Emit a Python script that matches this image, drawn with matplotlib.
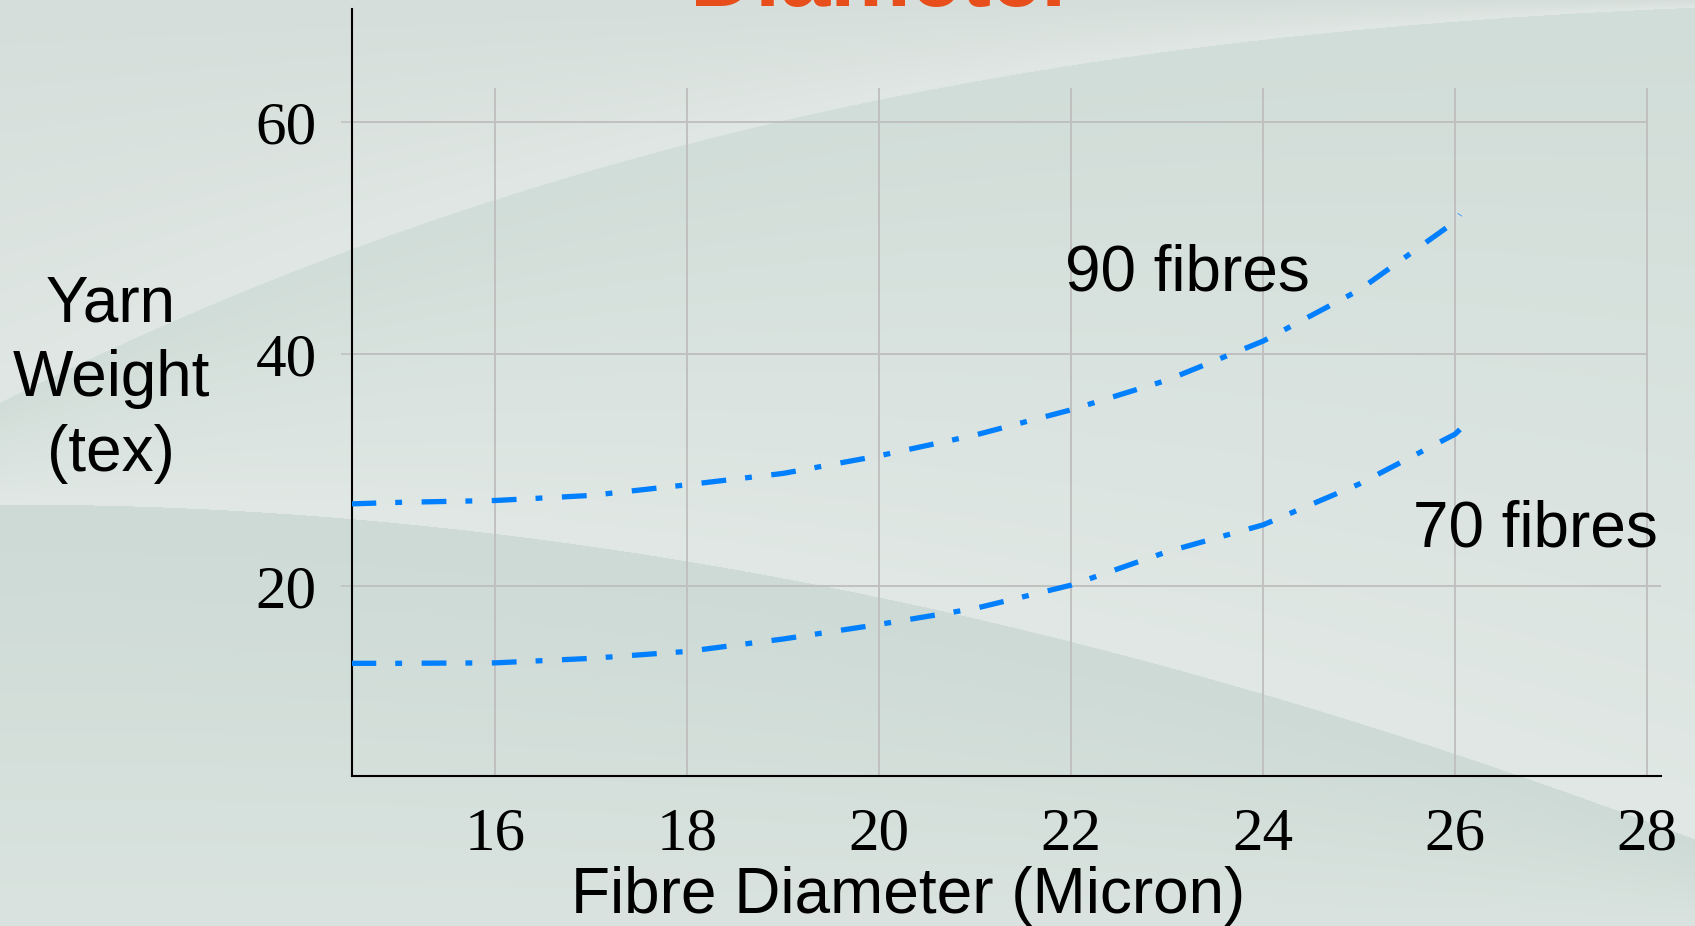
import numpy as np
import matplotlib
matplotlib.use('agg')
import matplotlib.pyplot as plt

# yarn weight (tex) against fibre diameter (micron)
diam = [14.5, 15, 16, 17, 18, 19, 20, 21, 22, 23, 24, 25, 26, 26.05]
tex_90 = [27.09, 27.22, 27.38, 27.82, 28.74, 29.72, 31.24, 33.03, 35.21, 37.77, 41.14, 45.54, 51.45, 52.06]
tex_70 = [13.33, 13.33, 13.37, 13.76, 14.36, 15.43, 16.69, 18.07, 20.08, 22.96, 25.28, 28.80, 33.11, 33.51]

xticks = [16, 18, 20, 22, 24, 26, 28]
yticks = [20, 40, 60]

W, H = 1695, 926
fig = plt.figure(figsize=(W / 100, H / 100), dpi=100)

# slide background: soft grey-green with two sweeping bands
xs = np.arange(W)
ys = np.arange(H)[:, None].astype(float)
a_fit = np.polyfit([0, 180, 357, 692, 1043, 1449, 1695], [402, 321, 242, 145, 70, 20, 8], 3)
b_fit = np.polyfit([0, 357, 692, 1081, 1405, 1695], [504, 520, 561, 644, 738, 839], 3)
yA = np.polyval(a_fit, xs)[None, :]
yB = np.polyval(b_fit, xs)[None, :]

def lerp(c0, c1, t):
    t = np.clip(t, 0, 1)[..., None]
    return np.array(c0) * (1 - t) + np.array(c1) * t

top = lerp((213, 222, 218), (224, 231, 228), ys / np.maximum(yA, 1))
band = lerp((209, 221, 216), (225, 232, 229), (ys - yA) / (yB - yA))
low = lerp((205, 218, 213), (218, 227, 223), (ys - yB) / np.maximum(H - yB, 1))
bg = np.where((ys < yA)[..., None], top, np.where((ys < yB)[..., None], band, low))

ax_bg = fig.add_axes([0, 0, 1, 1], zorder=-1)
ax_bg.imshow(bg.astype(np.uint8), aspect='auto', interpolation='bilinear')
ax_bg.axis('off')

ax = fig.add_axes([352.4 / W, 1 - 775.5 / H, 1309.1 / W, 766.6 / H])
ax.set_facecolor('none')
ax.set_xlim(14.51, 28.15)
ax.set_ylim(3.65, 69.8)

grid_c = '#c0c0c0'
for x in xticks:
    ax.axvline(x, ymin=0, ymax=0.896, color=grid_c, lw=1.4, zorder=1)
for y in yticks:
    ax.hlines(y, 14.51, 28 if y > 20 else 28.15, color=grid_c, lw=1.4, zorder=1)

dash = (0, (4.7, 3.6, 1.3, 3.7))
ax.plot(diam, tex_90, color='#0080ff', lw=3.8, linestyle=dash, zorder=3)
ax.plot(diam, tex_70, color='#0080ff', lw=3.8, linestyle=dash, zorder=3)

ax.text(21.93, 45.5, '90 fibres', fontsize=46, family='Liberation Sans', va='baseline')
ax.text(25.56, 23.45, '70 fibres', fontsize=46, family='Liberation Sans', va='baseline')

ax.set_xticks(xticks)
ax.set_yticks(yticks)
ax.set_xticklabels([str(v) for v in xticks], family='Liberation Serif', fontsize=44)
ax.set_yticklabels([str(v) for v in yticks], family='Liberation Serif', fontsize=44)
ax.tick_params(axis='x', length=0, pad=23)
ax.tick_params(axis='y', length=7.8, width=1.1, color=grid_c, pad=18)

for s in ['top', 'right']:
    ax.spines[s].set_visible(False)
for s in ['left', 'bottom']:
    ax.spines[s].set_linewidth(1.5)
    ax.spines[s].set_color('black')

ax.set_xlabel('Fibre Diameter (Micron)', fontsize=46, family='Liberation Sans', va='baseline')
ax.xaxis.set_label_coords(0.4244, -0.18)
ax.set_ylabel('Yarn\nWeight\n(tex)', fontsize=46, family='Liberation Sans', linespacing=1.31,
              rotation=0, ha='center', va='baseline', multialignment='center')
ax.yaxis.set_label_coords(-0.1844, (775.5 - 456) / 766.6)

fig.text(883.5 / W, 1 - 6 / H, 'Diameter', fontsize=65, fontweight='bold',
         family='Liberation Sans', color='#e84e1b', ha='center', va='baseline')

fig.savefig('out.png', dpi=100)
